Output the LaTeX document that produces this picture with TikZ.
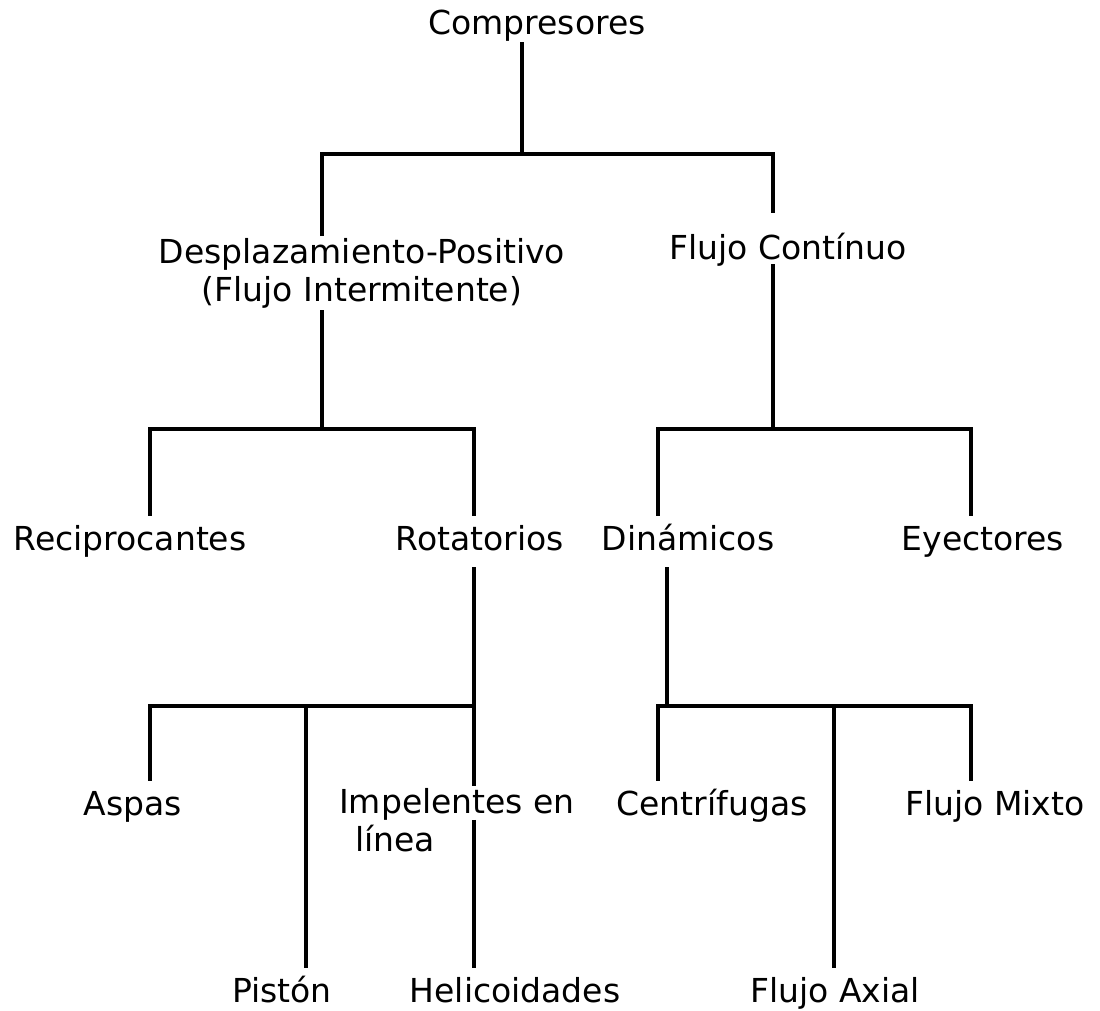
\documentclass[tikz,border=0pt]{standalone}
\usepackage{fontspec}
\newfontfamily\tagfont{DejaVu Sans}
\usetikzlibrary{calc}

\begin{document}
\begin{tikzpicture}[x=1pt, y=-1pt]
    % --- GLOBAL DEFINITIONS ---
    \tikzset{
        item/.style={font=\tagfont\fontsize{33}{38}\selectfont, inner xsep=0pt, inner ysep=10pt, text height=24pt, text depth=7pt, anchor=base},
        itemtwo/.style={font=\tagfont\fontsize{33}{38}\selectfont, inner xsep=0pt, inner ysep=2pt, anchor=north},
        link/.style={line width=3.2pt, line join=miter}
    }
    \useasboundingbox (0,0) rectangle (1100,1011);

    % Labels
    \node[item, inner ysep=0pt] (comp) at (537,35) {Compresores};
    \node[itemtwo, align=center] (despl) at (362,236) {Desplazamiento-Positivo\\(Flujo Intermitente)};
    \node[item] (cont) at (788,259) {Flujo Contínuo};

    \node[item] (recip) at (130,550) {Reciprocantes};
    \node[item] (rota) at (480,550) {Rotatorios};
    \node[item] (dina) at (688,550) {Dinámicos};
    \node[item] (eyec) at (983,550) {Eyectores};

    \node[item] (aspas) at (133,815) {Aspas};
    \node[itemtwo, align=left] (impel) at (457,786) {Impelentes en\\\hspace*{16pt}línea};
    \node[item] (centr) at (712,815) {Centrífugas};
    \node[item] (mixto) at (995,815) {Flujo Mixto};

    \node[item] (piston) at (282,1002) {Pistón};
    \node[item] (helic) at (515,1002) {Helicoidades};
    \node[item] (axial) at (835,1002) {Flujo Axial};

    % Bar levels
    \coordinate (b1l) at (322,154); \coordinate (b1r) at (773,154);
    \coordinate (b2l) at (150,429); \coordinate (b2r) at (474,429);
    \coordinate (b3l) at (658,429); \coordinate (b3r) at (971,429);
    \coordinate (b4l) at (150,706); \coordinate (b4m) at (306,706); \coordinate (b4r) at (474,706);
    \coordinate (b5l) at (658,706); \coordinate (b5m) at (834,706); \coordinate (b5r) at (971,706);

    % Level 1
    \draw[link] (comp.south -| 522,0) -- (522,154);
    \draw[link, shorten >=12pt] (despl.north -| b1l) -- (b1l) -- (b1r) -- (cont.north -| b1r);

    % Level 2
    \draw[link] (despl.south -| b1l) -- (b1l |- b2l);
    \draw[link] (recip.north -| b2l) -- (b2l) -- (b2r) -- (rota.north -| b2r);
    \draw[link, shorten <=-12pt] (cont.south -| b1r) -- (b1r |- b3l);
    \draw[link] (dina.north -| b3l) -- (b3l) -- (b3r) -- (eyec.north -| b3r);

    % Level 3
    \draw[link] (rota.south -| b2r) -- (b4r);
    \draw[link] (aspas.north -| b4l) -- (b4l) -- (b4r) -- (impel.north -| b4r);
    \draw[link] (b4m) -- (piston.north -| b4m);
    \draw[link] (b4r |- impel.center) -- (helic.north -| b4r);
    \draw[link] (dina.south -| 667,0) -- (667,706);
    \draw[link] (centr.north -| b5l) -- (b5l) -- (b5r) -- (mixto.north -| b5r);
    \draw[link] (b5m) -- (axial.north -| b5m);
\end{tikzpicture}
\end{document}
